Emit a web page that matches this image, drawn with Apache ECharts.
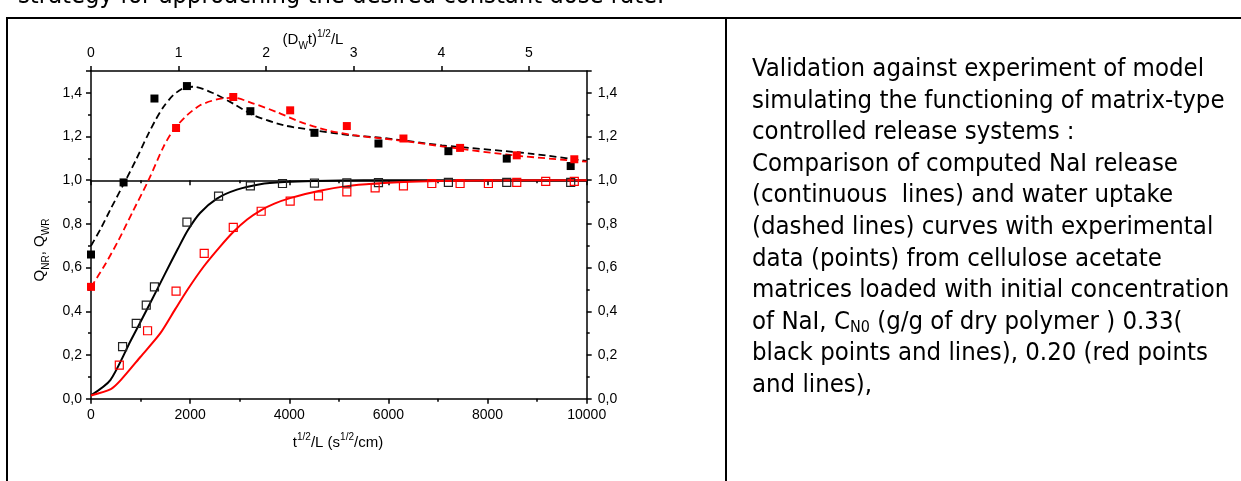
<!DOCTYPE html>
<html>
<head>
<meta charset="utf-8">
<script src="https://cdn.jsdelivr.net/npm/echarts@6/dist/echarts.min.js"></script>
<style>
  html, body { margin: 0; padding: 0; background: #fff; }
  #page { position: relative; width: 1241px; height: 481px; overflow: hidden; background: #fff; }
  #chart { position: absolute; left: 0; top: 0; width: 1241px; height: 481px; }
  .doc { position: absolute; font-family: "DejaVu Sans Condensed", "DejaVu Sans", sans-serif; font-stretch: condensed; color: #000; white-space: pre; }
  .bar { position: absolute; background: #000; }
  sub.n { font-size: 16px; vertical-align: -3px; line-height: 0; }
</style>
</head>
<body>
<div id="page">
  <div id="chart"></div>
  <div class="doc" id="topline" style="left:18px; top:-19px; font-size:25.3px; line-height:28px;">strategy for approaching the desired constant dose rate.</div>
  <div class="bar" style="left:6px; top:17px; width:1235px; height:2px;"></div>
  <div class="bar" style="left:6px; top:17px; width:2px; height:464px;"></div>
  <div class="bar" style="left:725px; top:17px; width:2px; height:464px;"></div>
  <div class="doc" id="caption" style="left:752px; top:52px; font-size:25.5px; line-height:31.6px;">Validation against experiment of model
simulating the functioning of matrix-type
controlled release systems :
Comparison of computed NaI release
(continuous  lines) and water uptake
(dashed lines) curves with experimental
data (points) from cellulose acetate
matrices loaded with initial concentration
of NaI, C<sub class="n">N0</sub> (g/g of dry polymer ) 0.33(
black points and lines), 0.20 (red points
and lines),</div>
</div>
<script>
// ---- data ----
// experimental points, black (C_N0 = 0.33)
const blackWaterX = [0, 657, 1280, 1935, 3215, 4508, 5799, 7210, 8387, 9677];
const blackWaterY = [0.66, 0.99, 1.374, 1.431, 1.316, 1.217, 1.168, 1.133, 1.099, 1.065];
const blackReleaseX = [637, 913, 1115, 1280, 1935, 2573, 3215, 3863, 4508, 5161, 5799, 7210, 8387, 9677];
const blackReleaseY = [0.238, 0.345, 0.428, 0.512, 0.808, 0.927, 0.974, 0.985, 0.987, 0.988, 0.989, 0.99, 0.99, 0.99];
// experimental points, red (C_N0 = 0.20)
const redWaterX = [0, 1716, 2870, 4018, 5161, 6303, 7446, 8589, 9750];
const redWaterY = [0.512, 1.239, 1.381, 1.32, 1.248, 1.191, 1.148, 1.114, 1.096];
const redReleaseX = [571, 1141, 1716, 2284, 2870, 3433, 4018, 4589, 5161, 5732, 6303, 6875, 7446, 8017, 8589, 9173, 9750];
const redReleaseY = [0.154, 0.311, 0.492, 0.665, 0.784, 0.858, 0.904, 0.928, 0.947, 0.965, 0.974, 0.985, 0.985, 0.985, 0.99, 0.995, 0.995];
// model curves
const blackReleaseCurveX = [0, 390, 800, 1200, 1500, 1750, 1950, 2200, 2540, 2944, 3413, 3900, 4500, 5500, 10000];
const blackReleaseCurveY = [0.015, 0.085, 0.265, 0.44, 0.575, 0.685, 0.77, 0.85, 0.916, 0.957, 0.982, 0.992, 0.997, 1.0, 1.0];
const redReleaseCurveX = [0, 400, 600, 1000, 1400, 1700, 1950, 2270, 2600, 2875, 3150, 3433, 3700, 4018, 4589, 5161, 5732, 6303, 7000, 8000, 10000];
const redReleaseCurveY = [0.015, 0.044, 0.085, 0.192, 0.30, 0.41, 0.50, 0.604, 0.695, 0.764, 0.82, 0.863, 0.893, 0.918, 0.951, 0.973, 0.985, 0.992, 0.996, 0.999, 1.0];
const blackWaterCurveX = [0, 200, 400, 700, 900, 1130, 1300, 1460, 1660, 1900, 2070, 2470, 2875, 3280, 3880, 4490, 5230, 5830, 7080, 8860, 10000];
const blackWaterCurveY = [0.70, 0.78, 0.87, 1.0, 1.09, 1.20, 1.275, 1.335, 1.39, 1.425, 1.428, 1.398, 1.35, 1.297, 1.252, 1.229, 1.206, 1.195, 1.16, 1.122, 1.088];
const redWaterCurveX = [0, 300, 557, 850, 1160, 1460, 1660, 1935, 2200, 2540, 2875, 3280, 3750, 4220, 4760, 5300, 5900, 6300, 7180, 8520, 10000];
const redWaterCurveY = [0.51, 0.62, 0.726, 0.86, 1.0, 1.152, 1.229, 1.297, 1.343, 1.37, 1.378, 1.351, 1.312, 1.267, 1.229, 1.206, 1.19, 1.18, 1.152, 1.114, 1.085];
// axes
const bottomAxis = { min: 0, max: 10000, interval: 2000 };
const topAxis = { min: 0, max: 5.66, interval: 1 };
const leftAxis = { min: 0, max: 1.5, interval: 0.2 };

const zip = (xs, ys) => xs.map((x, i) => [x, ys[i]]);
const FONT = 'Liberation Sans, Arial, sans-serif';
const axisLineStyle = { color: '#000', width: 1.5 };
const commaFmt = v => v.toFixed(1).replace('.', ',');
const plainFmt = v => String(v);

const richStyles = {
  m: { fontSize: 15, fontFamily: FONT, lineHeight: 22, fill: '#000' },
  s: { fontSize: 10, fontFamily: FONT, lineHeight: 10, verticalAlign: 'bottom', fill: '#000' },
  p: { fontSize: 10, fontFamily: FONT, lineHeight: 10, verticalAlign: 'top', fill: '#000' }
};

const lineBase = { type: 'line', xAxisIndex: 0, yAxisIndex: 0, showSymbol: false, smooth: 0.25, z: 3 };
const scatterBase = { type: 'scatter', xAxisIndex: 0, yAxisIndex: 0, symbol: 'rect', symbolSize: 8, z: 4 };

const chart = echarts.init(document.getElementById('chart'), null, { renderer: 'canvas' });
const option = {
  animation: false,
  backgroundColor: 'transparent',
  grid: [
    { left: 91, right: 654.3, top: 71, bottom: 82.3 },
    { left: 91, right: 654.3, top: 71, height: 109.35 }
  ],
  xAxis: [
    {
      type: 'value', gridIndex: 0, position: 'bottom', min: bottomAxis.min, max: bottomAxis.max, interval: bottomAxis.interval,
      axisLine: { show: true, onZero: false, lineStyle: axisLineStyle },
      axisTick: { show: true, inside: false, length: 5, lineStyle: axisLineStyle },
      minorTick: { show: true, splitNumber: 2, length: 3, lineStyle: axisLineStyle },
      axisLabel: { fontSize: 14, color: '#000', fontFamily: FONT, margin: 9, formatter: plainFmt },
      splitLine: { show: false }
    },
    {
      type: 'value', gridIndex: 0, position: 'top', min: topAxis.min, max: topAxis.max, interval: topAxis.interval,
      axisLine: { show: true, onZero: false, lineStyle: axisLineStyle },
      axisTick: { show: true, inside: false, length: 5, lineStyle: axisLineStyle },
      axisLabel: { fontSize: 14, color: '#000', fontFamily: FONT, margin: 11, showMaxLabel: false, formatter: plainFmt },
      splitLine: { show: false }
    },
    {
      type: 'value', gridIndex: 1, position: 'bottom', min: bottomAxis.min, max: bottomAxis.max, interval: bottomAxis.interval,
      axisLine: { show: true, onZero: false, lineStyle: axisLineStyle },
      axisTick: { show: true, inside: false, length: 5, lineStyle: axisLineStyle },
      minorTick: { show: true, splitNumber: 2, length: 3, lineStyle: axisLineStyle },
      axisLabel: { show: false },
      splitLine: { show: false }
    }
  ],
  yAxis: [
    {
      type: 'value', gridIndex: 0, position: 'left', min: leftAxis.min, max: leftAxis.max, interval: leftAxis.interval,
      axisLine: { show: true, onZero: false, lineStyle: axisLineStyle },
      axisTick: { show: true, inside: false, length: 5, lineStyle: axisLineStyle },
      minorTick: { show: true, splitNumber: 2, length: 3, lineStyle: axisLineStyle },
      axisLabel: { fontSize: 14, color: '#000', fontFamily: FONT, margin: 9, formatter: commaFmt, showMaxLabel: false },
      splitLine: { show: false }
    },
    {
      type: 'value', gridIndex: 0, position: 'right', min: leftAxis.min, max: leftAxis.max, interval: leftAxis.interval,
      axisLine: { show: true, onZero: false, lineStyle: axisLineStyle },
      axisTick: { show: true, inside: false, length: 5, lineStyle: axisLineStyle },
      minorTick: { show: true, splitNumber: 2, length: 3, lineStyle: axisLineStyle },
      axisLabel: { fontSize: 14, color: '#000', fontFamily: FONT, margin: 11, formatter: commaFmt, showMaxLabel: false },
      splitLine: { show: false }
    },
    {
      type: 'value', gridIndex: 1, min: 1, max: 1.5, show: false
    }
  ],
  series: [
    Object.assign({}, lineBase, { name: 'release 0.33 (model)', data: zip(blackReleaseCurveX, blackReleaseCurveY), lineStyle: { color: '#000', width: 2 } }),
    Object.assign({}, lineBase, { name: 'release 0.20 (model)', data: zip(redReleaseCurveX, redReleaseCurveY), lineStyle: { color: '#ff0000', width: 2 } }),
    Object.assign({}, lineBase, { name: 'water 0.33 (model)', data: zip(blackWaterCurveX, blackWaterCurveY), lineStyle: { color: '#000', width: 1.8, type: [7, 4] } }),
    Object.assign({}, lineBase, { name: 'water 0.20 (model)', data: zip(redWaterCurveX, redWaterCurveY), lineStyle: { color: '#ff0000', width: 1.8, type: [7, 4] } }),
    Object.assign({}, scatterBase, { name: 'water 0.33', data: zip(blackWaterX, blackWaterY), itemStyle: { color: '#000', opacity: 1 } }),
    Object.assign({}, scatterBase, { name: 'water 0.20', data: zip(redWaterX, redWaterY), itemStyle: { color: '#ff0000', opacity: 1 } }),
    Object.assign({}, scatterBase, { name: 'release 0.33', data: zip(blackReleaseX, blackReleaseY), itemStyle: { color: 'rgba(0,0,0,0)', borderColor: '#222', borderWidth: 1.2, opacity: 1 } }),
    Object.assign({}, scatterBase, { name: 'release 0.20', data: zip(redReleaseX, redReleaseY), itemStyle: { color: 'rgba(0,0,0,0)', borderColor: '#ff0000', borderWidth: 1.2, opacity: 1 } })
  ],
  graphic: [
    { type: 'text', x: 338, y: 443, z: 10, style: { text: '{m|t}{p|1/2}{m|/L (s}{p|1/2}{m|/cm)}', rich: richStyles, align: 'center', verticalAlign: 'middle', fill: '#000' } },
    { type: 'text', x: 313, y: 40, z: 10, style: { text: '{m|(D}{s|W}{m|t)}{p|1/2}{m|/L}', rich: richStyles, align: 'center', verticalAlign: 'middle', fill: '#000' } },
    { type: 'text', x: 40, y: 250, rotation: Math.PI / 2, z: 10, style: { text: '{m|Q}{s|NR}{m|, Q}{s|WR}', rich: richStyles, align: 'center', verticalAlign: 'middle', fill: '#000' } }
  ]
};
chart.setOption(option);
</script>
</body>
</html>
